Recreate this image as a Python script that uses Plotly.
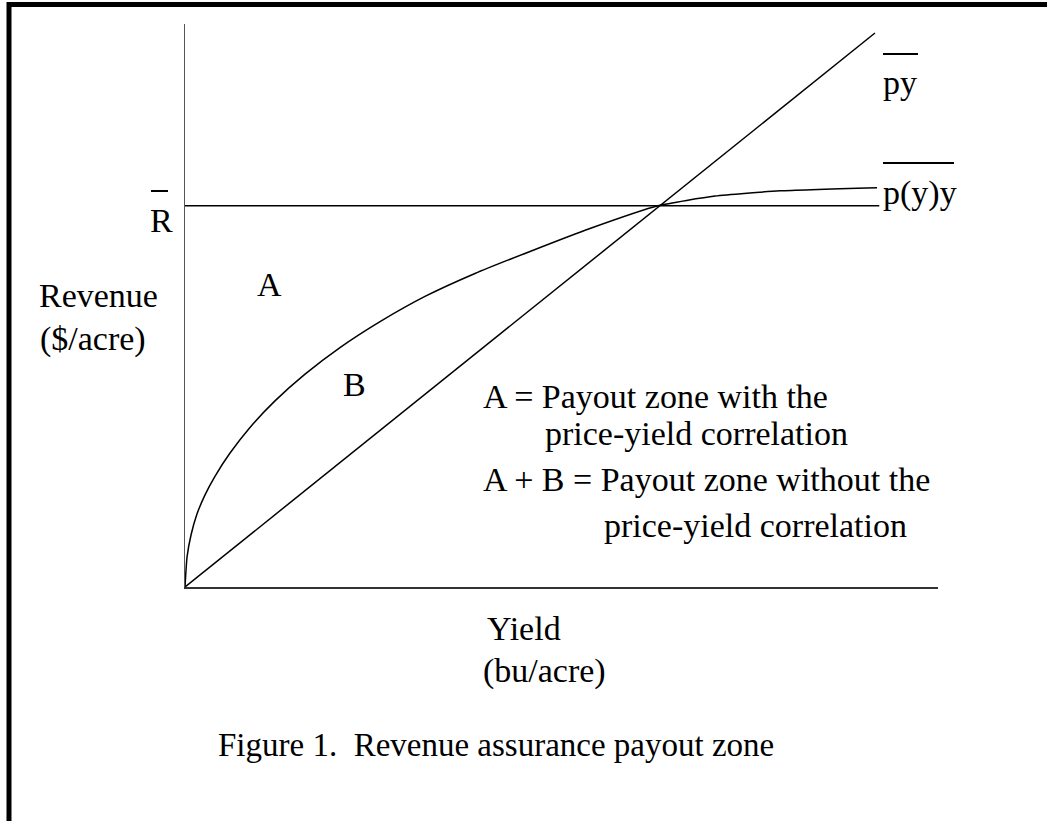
import plotly.graph_objects as go

# values (yield units 0-100, revenue units 0-75)
curve_yield = [0, 0.27, 0.80, 1.59, 2.66, 3.98, 5.98, 8.63, 11.95, 15.94, 20.58,
               25.90, 31.87, 38.51, 45.82, 53.78, 62.82, 70.39, 79.02, 91.90]
curve_revenue = [0, 4.00, 6.93, 9.72, 12.28, 14.75, 17.85, 21.26, 24.79, 28.35, 31.89,
                 35.35, 38.71, 41.77, 44.70, 47.76, 50.79, 52.08, 52.78, 53.20]
line_yield = [0, 91.63]
line_revenue = [0, 73.8]
guarantee_yield = [0, 92.2]
guarantee_revenue = [50.8, 50.8]

W, H = 1047, 821
L, T, R, B = 185, 24, 109, 234
PW, PH = W - L - R, H - T - B
FONT = 'Liberation Serif, Times New Roman, serif'


def px_x(px):
    return (px - L) / PW


def px_y(py):
    return (H - B - py) / PH


def note(text, left, mid, size=34):
    return dict(xref='paper', yref='paper', x=px_x(left - 2), y=px_y(mid),
                xanchor='left', yanchor='middle', showarrow=False, text=text,
                font=dict(family=FONT, size=size, color='black'))


def bar(x0, x1, y):
    return dict(type='line', xref='paper', yref='paper',
                x0=px_x(x0), x1=px_x(x1), y0=px_y(y), y1=px_y(y),
                line=dict(color='black', width=2))


fig = go.Figure()
fig.add_trace(go.Scatter(x=guarantee_yield, y=guarantee_revenue, mode='lines',
                         line=dict(color='black', width=1.5)))
fig.add_trace(go.Scatter(x=line_yield, y=line_revenue, mode='lines',
                         line=dict(color='black', width=1.5)))
fig.add_trace(go.Scatter(x=curve_yield, y=curve_revenue, mode='lines',
                         line=dict(color='black', width=1.5, shape='spline', smoothing=0.5)))

notes = [
    note('R', 150, 220),
    note('py', 883, 82),
    note('p(y)y', 883, 193),
    note('Revenue', 39, 295),
    note('($/acre)', 40, 339),
    note('A', 257, 284),
    note('B', 343, 384.5),
    note('A = Payout zone with the', 483, 396.5),
    note('price-yield correlation', 545, 433.5),
    note('A + B = Payout zone without the', 483, 479.5),
    note('price-yield correlation', 604, 525.5),
    note('Yield', 487, 628.5),
    note('(bu/acre)', 483, 670.5),
    note('Figure 1.\u00a0 Revenue assurance payout zone', 218, 744.5, size=33),
]

shapes = [
    bar(151, 168, 191),
    bar(883, 918, 54),
    bar(883, 954, 163),
    dict(type='rect', xref='paper', yref='paper',
         x0=px_x(9), x1=px_x(1070), y0=px_y(4.5), y1=px_y(840),
         line=dict(color='black', width=5)),
]

fig.update_layout(
    width=W, height=H,
    margin=dict(l=L, r=R, t=T, b=B),
    plot_bgcolor='white', paper_bgcolor='white',
    showlegend=False,
    xaxis=dict(range=[0, 100], showgrid=False, zeroline=False, showticklabels=False,
               ticks='', showline=True, linecolor='#333', linewidth=2),
    yaxis=dict(range=[0, 75], showgrid=False, zeroline=False, showticklabels=False,
               ticks='', showline=True, linecolor='#555', linewidth=1),
    annotations=notes,
    shapes=shapes,
)

# page has a default 8px body margin; drop it so the figure sits at the corner
fig.write_html('out.html', config={'displayModeBar': False},
               post_script="document.body.style.margin='0';")
